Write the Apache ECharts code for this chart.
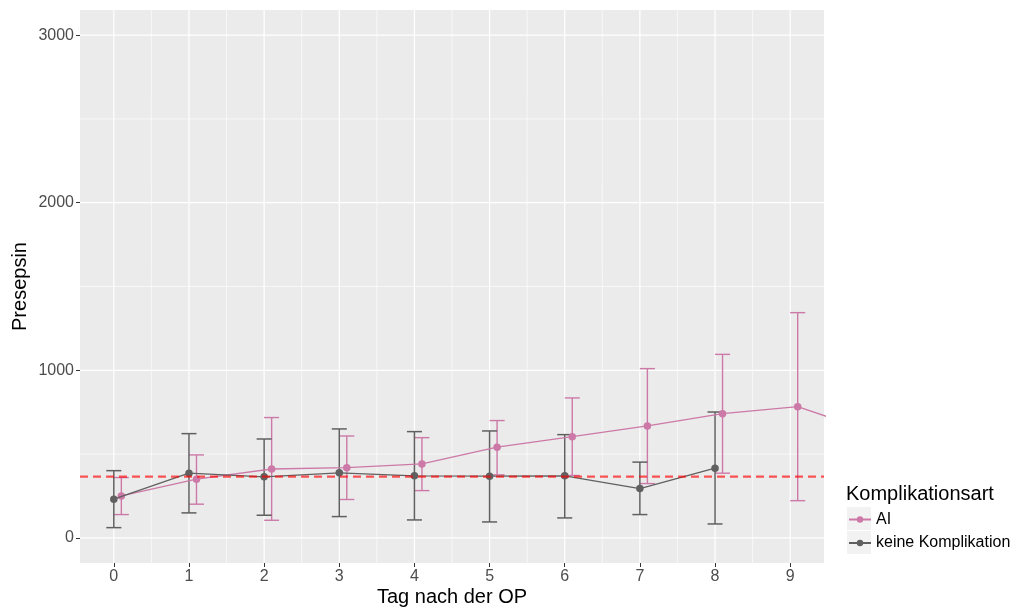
<!DOCTYPE html>
<html>
<head>
<meta charset="utf-8">
<script src="https://cdn.jsdelivr.net/npm/echarts@6/dist/echarts.min.js"></script>
<style>
  html, body { margin: 0; padding: 0; background: #ffffff; }
  #chart { width: 1010px; height: 610px; }
</style>
</head>
<body>
<div id="chart"></div>
<script>
// Axis ticks and grid positions
const dayTicks = [0, 1, 2, 3, 4, 5, 6, 7, 8, 9];
const dayMinor = [0.5, 1.5, 2.5, 3.5, 4.5, 5.5, 6.5, 7.5, 8.5];
const valueTicks = [0, 1000, 2000, 3000];
const valueMinor = [500, 1500, 2500];

// Presepsin by postoperative day: AI group (mean, lower, upper)
const aiDays = [0, 1, 2, 3, 4, 5, 6, 7, 8, 9, 10];
const aiMean = [250, 350, 411, 419, 441, 541, 604, 668, 741, 783, 630];
const aiLow  = [139, 201, 105, 229, 282, 376, 372, 324, 386, 222, null];
const aiHigh = [360, 495, 718, 608, 598, 700, 835, 1010, 1095, 1344, null];

// Presepsin by postoperative day: no complication
const keineDays = [0, 1, 2, 3, 4, 5, 6, 7, 8];
const keineMean = [231, 386, 364, 388, 370, 368, 370, 294, 416];
const keineLow  = [61, 149, 135, 127, 107, 95, 119, 139, 83];
const keineHigh = [401, 622, 590, 650, 634, 638, 616, 452, 751];

// Reference threshold (dashed line)
const referenceLine = 365;

const seriesNames = ['AI', 'keine Komplikation'];
const aiColor = '#CC79A7';
const keineColor = '#606060';
const aiShift = 0.1;       // horizontal dodge of the AI group
const capHalf = 0.1;       // half width of error bar caps, in days
const FONT = '"Liberation Sans", Arial, sans-serif';

const chart = echarts.init(document.getElementById('chart'), null, { renderer: 'canvas' });

const gridRows = [].concat(
  dayTicks.map(v => [0, v, 1]),
  dayMinor.map(v => [0, v, 0]),
  valueTicks.map(v => [1, v, 1]),
  valueMinor.map(v => [1, v, 0])
);

function errorRows(days, low, high, shift) {
  const rows = [];
  days.forEach((d, i) => {
    if (low[i] != null && high[i] != null) rows.push([d + shift, low[i], high[i]]);
  });
  return rows;
}

function errorBarRenderer(color, width) {
  return function (params, api) {
    const x = api.value(0);
    const pLo = api.coord([x, api.value(1)]);
    const pHi = api.coord([x, api.value(2)]);
    const half = api.size([capHalf, 0])[0];
    const style = { stroke: color, lineWidth: width, fill: null };
    return {
      type: 'group',
      children: [
        { type: 'line', shape: { x1: pLo[0], y1: pLo[1], x2: pHi[0], y2: pHi[1] }, style },
        { type: 'line', shape: { x1: pHi[0] - half, y1: pHi[1], x2: pHi[0] + half, y2: pHi[1] }, style },
        { type: 'line', shape: { x1: pLo[0] - half, y1: pLo[1], x2: pLo[0] + half, y2: pLo[1] }, style }
      ]
    };
  };
}

const option = {
  animation: false,
  backgroundColor: '#ffffff',
  textStyle: { fontFamily: FONT },
  title: {
    text: 'Komplikationsart',
    left: 846,
    top: 484,
    padding: 0,
    textStyle: { fontFamily: FONT, fontSize: 20, fontWeight: 'normal', color: '#000000', lineHeight: 20 }
  },
  legend: [
    {
      data: [seriesNames[0]], orient: 'vertical', left: 848, top: 511.5, padding: 0,
      itemWidth: 22, itemHeight: 8, selectedMode: false,
      textStyle: { fontFamily: FONT, fontSize: 16, color: '#000000', lineHeight: 8 }
    },
    {
      data: [seriesNames[1]], orient: 'vertical', left: 848, top: 535, padding: 0,
      itemWidth: 22, itemHeight: 8, selectedMode: false,
      textStyle: { fontFamily: FONT, fontSize: 16, color: '#000000', lineHeight: 8 }
    }
  ],
  graphic: [
    { type: 'rect', left: 847, top: 507, shape: { width: 24, height: 23 }, style: { fill: '#F2F2F2' }, z: -1, silent: true },
    { type: 'rect', left: 847, top: 531, shape: { width: 24, height: 23 }, style: { fill: '#F2F2F2' }, z: -1, silent: true }
  ],
  grid: {
    left: 80, top: 10, width: 744, height: 553,
    containLabel: false,
    outerBoundsMode: 'none',
    show: true, backgroundColor: '#EBEBEB', borderWidth: 0
  },
  xAxis: {
    type: 'value',
    min: -0.45, max: 9.45,
    name: 'Tag nach der OP',
    nameLocation: 'middle',
    nameGap: 24,
    nameMoveOverlap: false,
    nameTextStyle: { fontFamily: FONT, fontSize: 20, color: '#000000', lineHeight: 20 },
    axisLine: { show: false, onZero: false },
    splitLine: { show: false },
    axisTick: { show: true, customValues: dayTicks, length: 4, lineStyle: { color: '#333333', width: 1 } },
    axisLabel: { customValues: dayTicks, color: '#4D4D4D', fontSize: 16, lineHeight: 16, margin: 6, fontFamily: FONT,
                 formatter: v => String(v) }
  },
  yAxis: {
    type: 'value',
    min: -150, max: 3150,
    name: 'Presepsin',
    nameLocation: 'middle',
    nameGap: 50,
    nameMoveOverlap: false,
    nameTextStyle: { fontFamily: FONT, fontSize: 20, color: '#000000', lineHeight: 20 },
    axisLine: { show: false, onZero: false },
    splitLine: { show: false },
    axisTick: { show: true, customValues: valueTicks, length: 4, lineStyle: { color: '#333333', width: 1 } },
    axisLabel: { customValues: valueTicks, color: '#4D4D4D', fontSize: 16, margin: 6, fontFamily: FONT,
                 formatter: v => String(v) }
  },
  series: [
    {
      // panel grid lines
      type: 'custom',
      silent: true,
      z: 1,
      data: gridRows,
      renderItem: function (params, api) {
        const cs = params.coordSys;
        const dir = api.value(0), v = api.value(1), major = api.value(2) === 1;
        let shape;
        if (dir === 0) {
          const x = api.coord([v, 0])[0];
          shape = { x1: x, y1: cs.y, x2: x, y2: cs.y + cs.height };
        } else {
          const y = api.coord([0, v])[1];
          shape = { x1: cs.x, y1: y, x2: cs.x + cs.width, y2: y };
        }
        return { type: 'line', shape, style: { stroke: '#FFFFFF', lineWidth: major ? 1.2 : 0.6 } };
      }
    },
    {
      type: 'custom',
      name: seriesNames[0] + ' SD',
      silent: true,
      z: 2,
      encode: { x: 0, y: [1, 2] },
      data: errorRows(aiDays, aiLow, aiHigh, aiShift),
      renderItem: errorBarRenderer(aiColor, 1.4)
    },
    {
      type: 'custom',
      name: seriesNames[1] + ' SD',
      silent: true,
      z: 2,
      encode: { x: 0, y: [1, 2] },
      data: errorRows(keineDays, keineLow, keineHigh, 0),
      renderItem: errorBarRenderer(keineColor, 1.5)
    },
    {
      type: 'line',
      name: seriesNames[0],
      z: 3,
      clip: true,
      data: aiDays.map((d, i) => [d + aiShift, aiMean[i]]),
      symbol: 'circle',
      symbolSize: 7.5,
      showAllSymbol: true,
      lineStyle: { color: aiColor, width: 1.3 },
      itemStyle: { color: aiColor }
    },
    {
      type: 'line',
      name: seriesNames[1],
      z: 4,
      clip: true,
      data: keineDays.map((d, i) => [d, keineMean[i]]),
      symbol: 'circle',
      symbolSize: 7.5,
      showAllSymbol: true,
      lineStyle: { color: keineColor, width: 1.3 },
      itemStyle: { color: keineColor }
    },
    {
      // dashed reference threshold
      type: 'custom',
      silent: true,
      z: 5,
      data: [[0, referenceLine]],
      renderItem: function (params, api) {
        const cs = params.coordSys;
        const y = api.coord([0, api.value(1)])[1];
        return {
          type: 'line',
          shape: { x1: cs.x, y1: y, x2: cs.x + cs.width, y2: y },
          style: { stroke: 'rgba(255,0,0,0.65)', lineWidth: 2.3, lineDash: [8, 5] }
        };
      }
    }
  ]
};

chart.setOption(option);
</script>
</body>
</html>
